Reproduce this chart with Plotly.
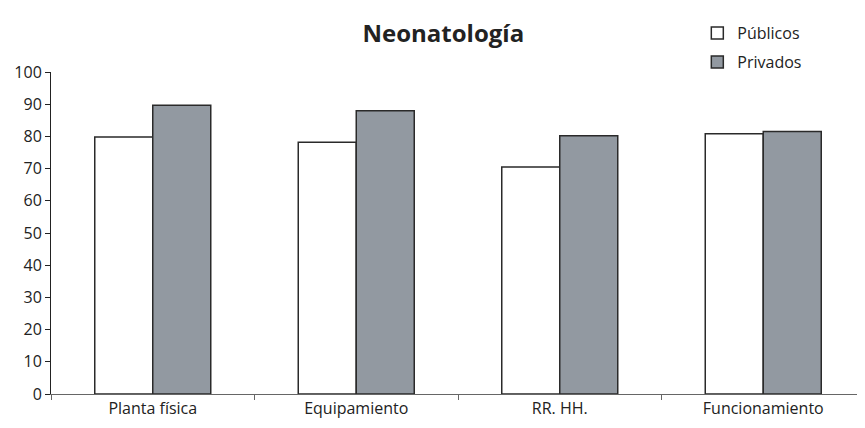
import plotly.graph_objects as go

categories = ["Planta física", "Equipamiento", "RR. HH.", "Funcionamiento"]
publicos = [79.8, 78.2, 70.5, 80.8]
privados = [89.7, 88.0, 80.2, 81.5]
y_ticks = [0, 10, 20, 30, 40, 50, 60, 70, 80, 90, 100]

fig = go.Figure()
fig.add_trace(go.Bar(name="Públicos", x=categories, y=publicos, legend="legend",
                     marker=dict(color="white", line=dict(color="#2a2a2a", width=1.5))))
fig.add_trace(go.Bar(name="Privados", x=categories, y=privados, legend="legend2",
                     marker=dict(color="#9299a1", line=dict(color="#2a2a2a", width=1.5))))

font = "Open Sans, Noto Sans, sans-serif"
leg_common = dict(xref="paper", yref="paper", xanchor="left", yanchor="middle",
                  bgcolor="rgba(0,0,0,0)", font=dict(size=16), itemwidth=30)
fig.update_layout(
    width=857, height=420,
    margin=dict(l=43, r=0, t=64, b=34),
    paper_bgcolor="white", plot_bgcolor="white",
    barmode="group", bargap=0.43, bargroupgap=0,
    font=dict(family=font, size=16, color="#222"),
    title=dict(text="<b>Neonatología</b>", xref="container", x=0.508, xanchor="center",
               yref="container", y=0.94, yanchor="middle",
               font=dict(size=24, color="#222")),
    legend=dict(x=0.794, y=1.121, **leg_common),
    legend2=dict(x=0.794, y=1.031, **leg_common),
    showlegend=True,
)
fig.update_xaxes(showline=True, linecolor="#666", linewidth=1, ticks="outside",
                 tickson="boundaries", ticklen=5, tickcolor="#666", showgrid=False)
fig.update_yaxes(range=[0, 100], tickvals=y_ticks, showline=True, linecolor="#222",
                 linewidth=1, ticks="outside", ticklen=5, tickcolor="#222",
                 showgrid=False, zeroline=False)

fig.write_html("out.html")
